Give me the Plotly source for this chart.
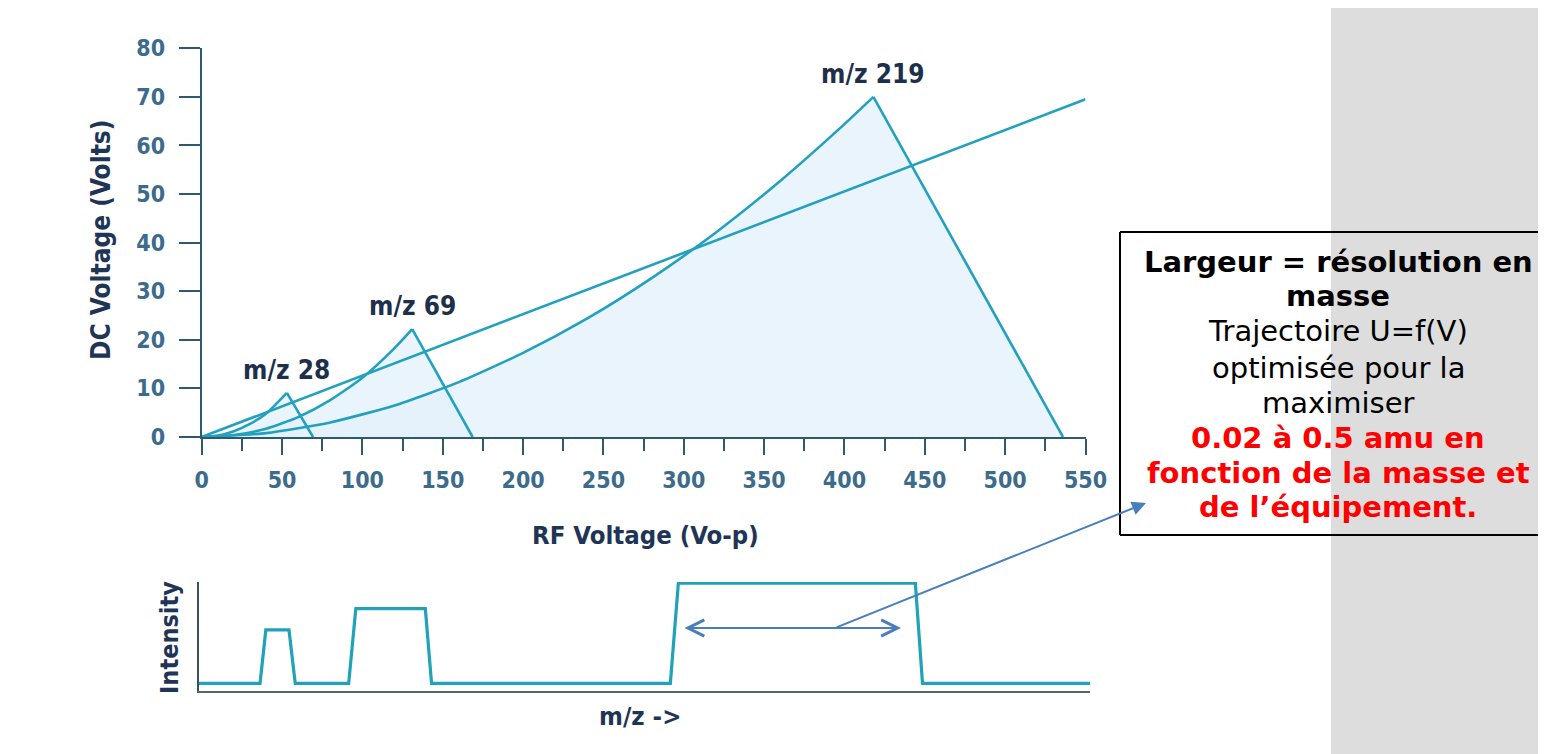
import plotly.graph_objects as go

# page offset (browser body margin) and figure size
OFF = 8
FW, FH = 1546 - OFF, 754 - OFF

# ---------------- data ----------------
# scan line U = f(V)
scan_x = [0, 550]
scan_y = [0, 69.5]

mz28_left_x = [0, 10, 20, 30, 40, 53]
mz28_left_y = [0, 0.3, 1.2, 2.7, 4.8, 9.1]
mz28_right_x = [53, 69.3]
mz28_right_y = [9.1, 0]

mz69_left_x = [0, 20, 40, 60, 80, 100, 120, 131]
mz69_left_y = [0, 0.4, 1.7, 4.1, 7.6, 12.2, 18.3, 22.2]
mz69_right_x = [131, 168.6]
mz69_right_y = [22.2, 0]

mz219_left_x = [0, 40, 80, 120, 160, 200, 240, 280, 320, 360, 400, 418]
mz219_left_y = [0, 0.8, 3.0, 6.5, 11.3, 17.3, 24.4, 32.7, 42.1, 52.7, 64.4, 70]
mz219_right_x = [418, 536]
mz219_right_y = [70, 0]

peak_labels = ["m/z 28", "m/z 69", "m/z 219"]
peak_apex_x = [53, 131, 418]
peak_apex_y = [9.1, 22.2, 70]

x_ticks = [0, 50, 100, 150, 200, 250, 300, 350, 400, 450, 500, 550]
y_ticks = [0, 10, 20, 30, 40, 50, 60, 70, 80]

# intensity profile (arbitrary m/z units 0-100, intensity 0-100)
spec_x = [0, 6.85, 7.5, 10.1, 10.8, 16.8, 17.6, 25.4, 26.1, 52.9, 53.8, 80.4, 81.2, 100]
spec_y = [7, 7, 56, 56, 7, 7, 75.5, 75.5, 7, 7, 99, 99, 7, 7]

# ---------------- styles ----------------
TEAL = "#22a1bf"
FILL = "rgba(228,241,251,0.8)"
AXIS = "#2f5872"
TICKC = "#3d6b8b"
NAVY = "#1f3556"
COND = "DejaVu Sans Condensed, Liberation Sans Narrow, Arial Narrow, sans-serif"
ARROW = "#4a7ebb"


def px(x):
    return (x - OFF) / FW


def py(y):
    return 1 - (y - OFF) / FH


fig = go.Figure()

# filled regions
for lx, ly, rx, ry in [
    (mz219_left_x, mz219_left_y, mz219_right_x, mz219_right_y),
    (mz69_left_x, mz69_left_y, mz69_right_x, mz69_right_y),
    (mz28_left_x, mz28_left_y, mz28_right_x, mz28_right_y),
]:
    fig.add_trace(go.Scatter(
        x=lx + rx[1:] + [0], y=ly + ry[1:] + [0],
        fill="toself", fillcolor=FILL, mode="lines",
        line=dict(width=0, shape="linear"), hoverinfo="skip", showlegend=False,
        xaxis="x", yaxis="y"))

# edges
for lx, ly in [(mz28_left_x, mz28_left_y), (mz69_left_x, mz69_left_y), (mz219_left_x, mz219_left_y)]:
    fig.add_trace(go.Scatter(x=lx, y=ly, mode="lines",
                             line=dict(color=TEAL, width=2.6, shape="spline", smoothing=0.6),
                             showlegend=False, hoverinfo="skip", xaxis="x", yaxis="y"))
for rx, ry in [(mz28_right_x, mz28_right_y), (mz69_right_x, mz69_right_y), (mz219_right_x, mz219_right_y)]:
    fig.add_trace(go.Scatter(x=rx, y=ry, mode="lines",
                             line=dict(color=TEAL, width=2.6),
                             showlegend=False, hoverinfo="skip", xaxis="x", yaxis="y"))
fig.add_trace(go.Scatter(x=scan_x, y=scan_y, mode="lines",
                         line=dict(color=TEAL, width=2.6),
                         showlegend=False, hoverinfo="skip", xaxis="x", yaxis="y"))

# intensity profile
fig.add_trace(go.Scatter(x=spec_x, y=spec_y, mode="lines",
                         line=dict(color="#20a2b8", width=3.2),
                         showlegend=False, hoverinfo="skip", xaxis="x2", yaxis="y2"))

tickfont = dict(family=COND, size=23, color=TICKC, weight="bold")

fig.update_layout(
    template="none",
    width=FW, height=FH, autosize=False,
    margin=dict(l=0, r=0, t=0, b=0, pad=0, autoexpand=False),
    paper_bgcolor="#dddddd",
    plot_bgcolor="rgba(0,0,0,0)",
    showlegend=False,
    xaxis=dict(domain=[px(201.7), px(1085.5)], range=[0, 550], tickvals=x_ticks,
               showgrid=False, zeroline=False, showline=True, linecolor=AXIS, linewidth=2,
               ticks="outside", ticklen=16, tickwidth=2, tickcolor=AXIS,
               minor=dict(dtick=25, ticks="outside", ticklen=12, tickwidth=2, tickcolor=AXIS, showgrid=False),
               tickfont=tickfont, ticklabelstandoff=5, anchor="y", fixedrange=True, automargin=False),
    yaxis=dict(domain=[py(437), py(48.3)], range=[0, 80], tickvals=y_ticks,
               showgrid=False, zeroline=False, showline=True, linecolor=AXIS, linewidth=2,
               ticks="outside", ticklen=21, tickwidth=2, tickcolor=AXIS,
               tickfont=tickfont, ticklabelstandoff=9, anchor="x", fixedrange=True, automargin=False),
    xaxis2=dict(domain=[px(199), px(1090)], range=[0, 100], showgrid=False, zeroline=False,
                showline=True, linecolor="#56646e", linewidth=2, showticklabels=False,
                ticks="", anchor="y2", fixedrange=True, automargin=False),
    yaxis2=dict(domain=[py(691), py(582)], range=[0, 100], showgrid=False, zeroline=False,
                showline=True, linecolor="#3b4f5f", linewidth=2, showticklabels=False,
                ticks="", anchor="x2", fixedrange=True, automargin=False),
)

# white panel
fig.add_shape(type="rect", xref="paper", yref="paper",
              x0=px(7), x1=px(1331), y0=py(770), y1=py(8),
              fillcolor="white", line=dict(width=0), layer="below")

# axis titles
fig.add_annotation(text="DC Voltage (Volts)", xref="paper", yref="paper",
                   x=px(101), y=py(240), textangle=-90, showarrow=False,
                   font=dict(family=COND, size=26, color=NAVY, weight="bold"),
                   xanchor="center", yanchor="middle")
fig.add_annotation(text="RF Voltage (Vo-p)", xref="paper", yref="paper",
                   x=px(645), y=py(535), showarrow=False,
                   font=dict(family=COND, size=25.5, color=NAVY, weight="bold"),
                   xanchor="center", yanchor="middle")
fig.add_annotation(text="Intensity", xref="paper", yref="paper",
                   x=px(169), y=py(638), textangle=-90, showarrow=False,
                   font=dict(family=COND, size=25, color=NAVY, weight="bold"),
                   xanchor="center", yanchor="middle")
fig.add_annotation(text="m/z ->", xref="paper", yref="paper",
                   x=px(640), y=py(716), showarrow=False,
                   font=dict(family=COND, size=25.5, color=NAVY, weight="bold"),
                   xanchor="center", yanchor="middle")

# peak labels
for lab, ax_, ay_ in zip(peak_labels, peak_apex_x, peak_apex_y):
    fig.add_annotation(text=lab, xref="x", yref="y", x=ax_, y=ay_, showarrow=False,
                       font=dict(family=COND, size=26, color="#1e2f4c", weight="bold"),
                       xanchor="center", yanchor="bottom", yshift=6)

# double arrow (width)
fig.add_annotation(xref="paper", yref="paper", x=px(901), y=py(628), ax=683 - 901, ay=0,
                   axref="pixel", ayref="pixel", text="", showarrow=True,
                   arrowside="end+start", arrowhead=5, arrowsize=1.6, arrowwidth=2,
                   arrowcolor=ARROW)
# pointer arrow to the box
fig.add_annotation(xref="paper", yref="paper", x=px(1146), y=py(503), ax=835 - 1146, ay=628 - 503,
                   axref="pixel", ayref="pixel", text="", showarrow=True,
                   arrowhead=2, arrowsize=1.4, arrowwidth=2, arrowcolor=ARROW)

# text box (right side runs off the page: top, left and bottom borders only)
box_style = dict(color="black", width=2)
fig.add_shape(type="line", xref="paper", yref="paper", x0=px(1120), x1=px(1620),
              y0=py(232), y1=py(232), line=box_style, layer="above")
fig.add_shape(type="line", xref="paper", yref="paper", x0=px(1120), x1=px(1620),
              y0=py(535), y1=py(535), line=box_style, layer="above")
fig.add_shape(type="line", xref="paper", yref="paper", x0=px(1120), x1=px(1120),
              y0=py(535), y1=py(232), line=box_style, layer="above")

box_lines = [
    ("<b>Largeur = résolution en</b>", "black"),
    ("<b>masse</b>", "black"),
    ("Trajectoire U=f(V)", "black"),
    ("optimisée pour la", "black"),
    ("maximiser", "black"),
    ("<b>0.02 à 0.5 amu en</b>", "#ff0000"),
    ("<b>fonction de la masse et</b>", "#ff0000"),
    ("<b>de l’équipement.</b>", "#ff0000"),
]
baselines = [270.7, 305, 339.5, 376.5, 411.5, 446.5, 481.5, 516]
for (t, c), b in zip(box_lines, baselines):
    fig.add_annotation(text=t, xref="paper", yref="paper", x=px(1338), y=py(b - 9),
                       showarrow=False, xanchor="center", yanchor="middle",
                       font=dict(family="DejaVu Sans, Verdana, sans-serif", size=29, color=c))

fig.write_html("out.html")
